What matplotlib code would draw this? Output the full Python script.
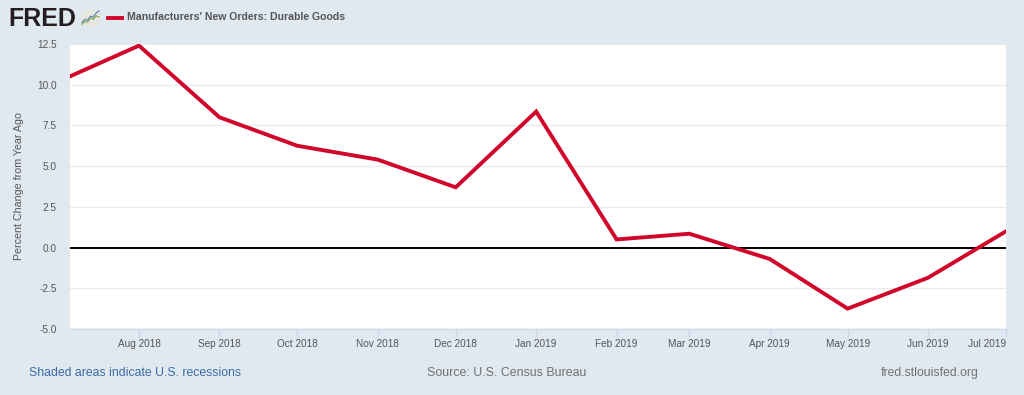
import matplotlib
matplotlib.use("Agg")
import matplotlib.pyplot as plt
import matplotlib.dates as mdates
import pandas as pd
from matplotlib.patches import FancyBboxPatch

plt.rcParams['font.family'] = ['Liberation Sans', 'DejaVu Sans']

months = ["2018-07-01", "2018-08-01", "2018-09-01", "2018-10-01", "2018-11-01", "2018-12-01",
          "2019-01-01", "2019-02-01", "2019-03-01", "2019-04-01", "2019-05-01", "2019-06-01", "2019-07-01"]
pct_change = [10.2, 12.4, 8.0, 6.25, 5.4, 3.7, 8.35, 0.5, 0.85, -0.7, -3.75, -1.85, 1.0]
y_ticks = [-5.0, -2.5, 0.0, 2.5, 5.0, 7.5, 10.0, 12.5]
series_name = "Manufacturers' New Orders: Durable Goods"

# little chart inside the logo, just decoration
logo_green = [0.15, 0.3, 0.28, 0.5, 0.42, 0.62, 0.55]
logo_blue = [0.25, 0.42, 0.38, 0.6, 0.55, 0.78, 0.9]

BG = "#e1e9f0"
RED = "#d0062a"
W, H = 1024, 395

dates = pd.to_datetime(months)
fig = plt.figure(figsize=(W / 100, H / 100), dpi=100, facecolor=BG)

# plot area in pixels, left 70 right 1006, top 44 bottom 329
ax = fig.add_axes([70 / W, 1 - 329 / H, 936 / W, 285 / H])
ax.plot(dates, pct_change, color=RED, lw=2.8, solid_joinstyle="miter", zorder=3)
ax.axhline(0, color="black", lw=1.4, zorder=2)

# left edge cuts the Jul 2018 point off, axis starts a few days into the month
ax.set_xlim(pd.Timestamp("2018-07-05 10:00"), pd.Timestamp("2019-07-01"))
ax.set_ylim(-5, 12.5)

ax.set_yticks(y_ticks)
ax.set_yticklabels([f"{v:.1f}" for v in y_ticks])
ax.set_xticks(dates[1:])
ax.xaxis.set_major_formatter(mdates.DateFormatter("%b %Y"))
ax.grid(axis="y", color="#ebebeb", lw=1)
ax.set_axisbelow(True)
ax.tick_params(axis="y", length=0, pad=9.5, labelsize=7.3, labelcolor="#555555")
ax.tick_params(axis="x", length=5.5, width=1, color="#ccd6eb", pad=2, labelsize=7.2, labelcolor="#555555")
ax.get_xticklabels()[-1].set_ha("right")
for side in ["top", "right", "left"]:
    ax.spines[side].set_visible(False)
ax.spines["bottom"].set_color("#ccd6eb")
ax.spines["bottom"].set_linewidth(1)
ax.set_ylabel("Percent Change from Year Ago", fontsize=7.7, color="#555555")
ax.yaxis.set_label_coords((24 - 70) / 936, 0.5)

# header
fig.text(8 / W, 1 - 19 / H, "FRED", fontsize=18, fontweight="bold", color="#231f20", va="center", ha="left")
logo = fig.add_axes([81 / W, 1 - 27 / H, 19 / W, 18 / H])
logo.axis("off")
logo.set_xlim(0, 1)
logo.set_ylim(0, 1)
logo.add_patch(FancyBboxPatch((0.03, 0.03), 0.94, 0.94, boxstyle="round,pad=0,rounding_size=0.1", fc="#e6e6e0", ec="none"))
xs = [i / 6 * 0.9 + 0.05 for i in range(7)]
logo.plot(xs, logo_green, color="#7da84a", lw=0.8)
logo.plot(xs, logo_blue, color="#5a7fa8", lw=0.8)

fig.add_artist(plt.Line2D([108 / W, 122 / W], [1 - 17.5 / H] * 2, color=RED, lw=2.8))
fig.text(127 / W, 1 - 17.5 / H, series_name, fontsize=7.6, fontweight="bold", color="#555555", va="center", ha="left")

# footer
fig.text(29 / W, 1 - 373 / H, "Shaded areas indicate U.S. recessions", fontsize=8.8, color="#3c6aa8", va="center", ha="left")
fig.text(507 / W, 1 - 373 / H, "Source: U.S. Census Bureau", fontsize=8.9, color="#707070", va="center", ha="center")
fig.text(979 / W, 1 - 373 / H, "fred.stlouisfed.org", fontsize=8.8, color="#707070", va="center", ha="right")

fig.savefig("out.png", dpi=100, facecolor=BG)
